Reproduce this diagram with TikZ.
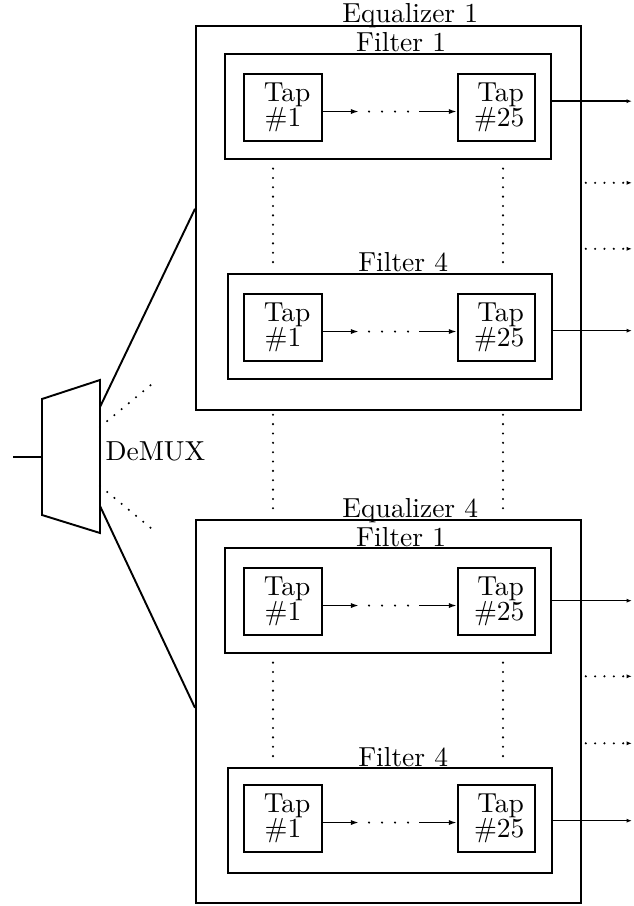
\documentclass[tikz,border=0pt]{standalone}
\usetikzlibrary{arrows.meta,calc}
% one drawing unit
\newcommand\pxu{0.3636pt}
\tikzset{
  eqbox/.style={draw, line width=0.6pt, rectangle, inner sep=0pt, anchor=north west},
  filterbox/.style={draw, line width=0.85pt, rectangle, inner sep=0pt, anchor=north west,
    minimum height=105*\pxu},
  tapbox/.style={draw, line width=0.75pt, rectangle, inner sep=0pt, anchor=north west,
    align=center, minimum width=78*\pxu, minimum height=67*\pxu},
  boxlabel/.style={inner sep=0pt, anchor=base},
  tiparrow/.style={line width=0.6pt, -{Latex[length=3pt,width=1.9pt]}},
  outarrow/.style={line width=0.55pt, -{Latex[length=2pt,width=1.5pt]}},
  dotline/.style={line width=0.85pt, line cap=round, dash pattern=on 0pt off 3.4pt},
  dotarrow/.style={dotline, -{Latex[length=2pt,width=1.5pt]}},
  tapdots/.style={line width=0.85pt, line cap=round, dash pattern=on 0pt off 13*\pxu,
    shorten <=10*\pxu, shorten >=9*\pxu},
  wire/.style={line width=0.7pt},
}
% one filter: #1 name, #2 label, #3 left, #4 top, #5 width, #6 tap top, #7 output shift
\newcommand\filterunit[7]{%
  \node[filterbox, minimum width=#5*\pxu] (#1) at (#3,#4) {};
  \node[boxlabel] (#1lbl) at ([xshift=13*\pxu, yshift=1*\pxu]#1.north) {#2};
  \node[tapbox] (#1t1) at (243,#6) {\hspace*{3pt}Tap\\[-3.1pt]\#1};
  \node[tapbox, minimum width=77*\pxu] (#1t25) at (457,#6) {\hspace*{3pt}Tap\\[-3.1pt]\hspace*{2pt}\#25};
  \path ([yshift=-4*\pxu]#1t1.east) coordinate (#1ta) ++(36,0) coordinate (#1tb)
        ++(60,0) coordinate (#1tc);
  \draw[tiparrow] (#1ta) -- (#1tb);
  \draw[tapdots] (#1tb) -- (#1tc);
  \draw[tiparrow] (#1tc) -- (#1tc -| #1t25.west);
  \path ([yshift=#7*\pxu]#1.east) coordinate (#1oa);
  \draw[outarrow] (#1oa) -- (#1oa -| outx);
}
\begin{document}
\begin{tikzpicture}[x=\pxu, y=-\pxu]
  \useasboundingbox (0,0) rectangle (633,906);
  \coordinate (outx) at (632,0);
  \coordinate (vl) at (273,0);
  \coordinate (vr) at (503,0);

  % equalizer 1
  \node[eqbox, minimum width=385*\pxu, minimum height=384*\pxu] (eq1) at (195,25) {};
  \node[boxlabel] (eq1lbl) at ([xshift=22*\pxu, yshift=2*\pxu]eq1.north) {Equalizer 1};
  \filterunit{eqAfA}{Filter 1}{224}{53}{326}{73}{5.5}
  \filterunit{eqAfD}{Filter 4}{227}{273}{324}{293}{-4}
  \draw[dotline, shorten <=3pt, shorten >=2pt] (eqAfA.south -| vl) -- (eqAfD.north -| vl);
  \draw[dotline, shorten <=3pt, shorten >=2pt] (eqAfA.south -| vr) -- (eqAfD.north -| vr);
  \path ([yshift=35*\pxu]eq1.east) coordinate (eq1da);
  \path ([yshift=-31*\pxu]eq1.east) coordinate (eq1db);
  \draw[dotarrow, shorten <=1.5pt] (eq1da) -- (eq1da -| outx);
  \draw[dotarrow, shorten <=1.5pt] (eq1db) -- (eq1db -| outx);

  % equalizer 4
  \node[eqbox, minimum width=385*\pxu, minimum height=383*\pxu] (eq4) at (195,519) {};
  \node[boxlabel] (eq4lbl) at ([xshift=22*\pxu, yshift=2*\pxu]eq4.north) {Equalizer 4};
  \filterunit{eqDfA}{Filter 1}{224}{547}{326}{567}{0}
  \filterunit{eqDfD}{Filter 4}{227}{767}{324}{784}{0}
  \draw[dotline, shorten <=3pt, shorten >=2pt] (eqDfA.south -| vl) -- (eqDfD.north -| vl);
  \draw[dotline, shorten <=3pt, shorten >=2pt] (eqDfA.south -| vr) -- (eqDfD.north -| vr);
  \path ([yshift=35*\pxu]eq4.east) coordinate (eq4da);
  \path ([yshift=-32*\pxu]eq4.east) coordinate (eq4db);
  \draw[dotarrow, shorten <=1.5pt] (eq4da) -- (eq4da -| outx);
  \draw[dotarrow, shorten <=1.5pt] (eq4db) -- (eq4db -| outx);

  % between the equalizers
  \draw[dotline, shorten <=1.5pt, shorten >=2pt] (eq1.south -| vl) -- (eq4.north -| vl);
  \draw[dotline, shorten <=1.5pt, shorten >=2pt] (eq1.south -| vr) -- (eq4.north -| vr);

  % demultiplexer
  \coordinate (dmTL) at (42,399);
  \coordinate (dmBL) at (42,515);
  \coordinate (dmTR) at (100,380);
  \coordinate (dmBR) at (100,533);
  \draw[wire, line join=miter] (dmTL) -- (dmTR) -- (dmBR) -- (dmBL) -- cycle;
  \coordinate (src) at (13,457);
  \coordinate (dmin) at (42,457);
  \draw[wire] (src) -- (dmin);
  \node[boxlabel, anchor=base west] (dmlbl) at (105,460) {DeMUX};
  \coordinate (dmo1) at (100,407);
  \coordinate (dmo2) at (100,427);
  \coordinate (dmo3) at (100,486);
  \coordinate (dmo4) at (100,506);
  \coordinate (dmd2) at (152,384);
  \coordinate (dmd3) at (152,529);
  \draw[wire] (dmo1) -- ([yshift=9*\pxu]eq1.west);
  \draw[wire] (dmo4) -- ([yshift=3.5*\pxu]eq4.west);
  \draw[dotline] (dmo2) -- (dmd2);
  \draw[dotline] (dmo3) -- (dmd3);
\end{tikzpicture}
\end{document}
